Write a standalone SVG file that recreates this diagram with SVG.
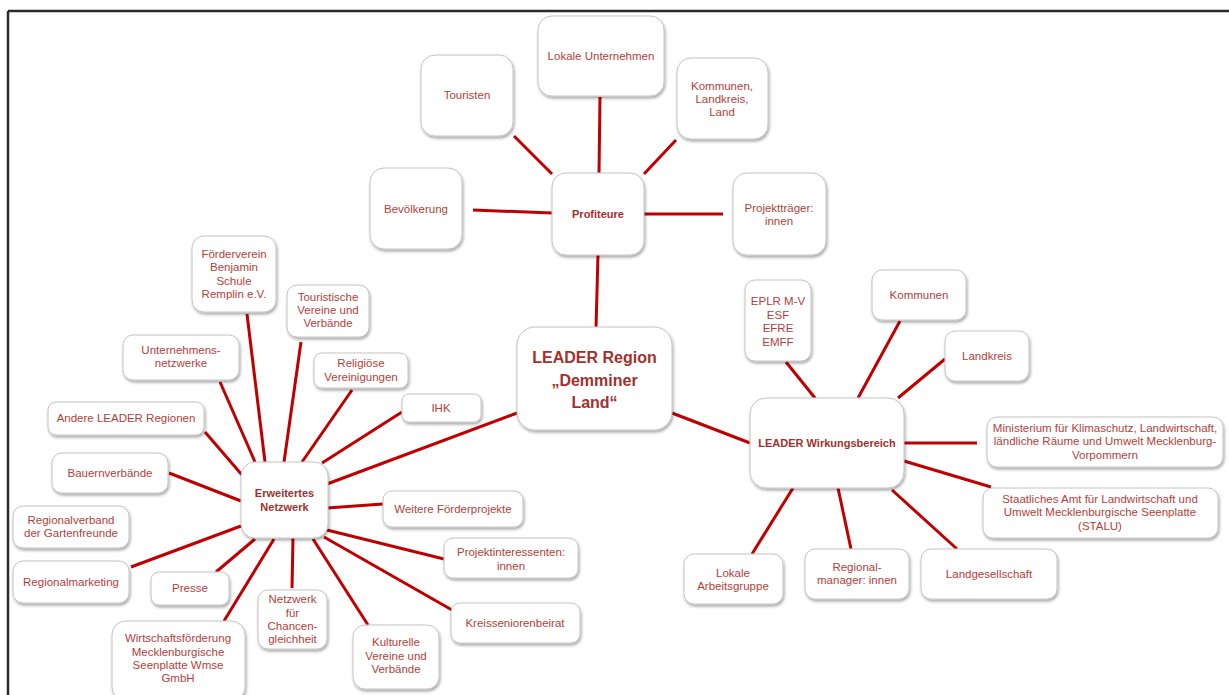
<svg xmlns="http://www.w3.org/2000/svg" width="1229" height="695" viewBox="0 0 1229 695">
<defs>
<filter id="sh" x="-20%" y="-20%" width="140%" height="150%">
<feDropShadow dx="1" dy="2" stdDeviation="1.5" flood-color="#000" flood-opacity="0.35"/>
</filter>
</defs>
<style>
.box{fill:#fff;stroke:#c4c4c4;stroke-width:1;filter:url(#sh)}
.t{font-family:"Liberation Sans",Arial,sans-serif;font-size:11.5px;fill:#B5403A;text-anchor:middle}
.b{font-weight:bold;font-size:11px;fill:#A3302C}
.big{font-weight:bold;font-size:16px;fill:#A3302C}
.c{stroke:#C00000;stroke-width:3;fill:none}
</style>
<rect width="1229" height="695" fill="#fff"/>
<path d="M8 11 H1229 M8 11 V695" stroke="#2a2a2a" stroke-width="2.5" fill="none"/>
<g id="connectors" class="c">
<line x1="600" y1="97" x2="599" y2="173"/>
<line x1="514" y1="136" x2="552" y2="174"/>
<line x1="676" y1="140" x2="644" y2="174"/>
<line x1="473" y1="210" x2="552" y2="213"/>
<line x1="644" y1="214" x2="723" y2="214"/>
<line x1="598" y1="255" x2="596" y2="328"/>
<line x1="672" y1="413" x2="750" y2="443"/>
<line x1="517" y1="413" x2="327" y2="484"/>
<line x1="786" y1="362" x2="815" y2="398"/>
<line x1="900" y1="321" x2="858" y2="398"/>
<line x1="945" y1="359" x2="898" y2="398"/>
<line x1="904" y1="443" x2="977" y2="443"/>
<line x1="904" y1="461" x2="991" y2="487"/>
<line x1="793" y1="488" x2="752" y2="554"/>
<line x1="838" y1="488" x2="851" y2="549"/>
<line x1="892" y1="490" x2="957" y2="549"/>
<line x1="247" y1="314" x2="265" y2="462"/>
<line x1="301" y1="342" x2="284" y2="462"/>
<line x1="220" y1="382" x2="255" y2="462"/>
<line x1="352" y1="390" x2="302" y2="462"/>
<line x1="402" y1="412" x2="322" y2="463"/>
<line x1="205" y1="432" x2="242" y2="475"/>
<line x1="169" y1="473" x2="241" y2="501"/>
<line x1="131" y1="567" x2="241" y2="526"/>
<line x1="216" y1="572" x2="255" y2="539"/>
<line x1="224" y1="621" x2="274" y2="539"/>
<line x1="293" y1="538" x2="292" y2="588"/>
<line x1="313" y1="539" x2="368" y2="625"/>
<line x1="324" y1="537" x2="452" y2="610"/>
<line x1="327" y1="530" x2="444" y2="559"/>
<line x1="327" y1="508" x2="383" y2="504"/>
</g>
<g id="n_lokale"><rect class="box" x="538" y="16" width="126" height="80" rx="14"/><text class="t" x="601" y="60">Lokale Unternehmen</text></g>
<g id="n_touristen"><rect class="box" x="421" y="55" width="92" height="81" rx="14"/><text class="t" x="467" y="99">Touristen</text></g>
<g id="n_kommunen_land"><rect class="box" x="677" y="58" width="91" height="81" rx="14"/><text class="t" x="722" y="90">Kommunen,</text><text class="t" x="722" y="103">Landkreis,</text><text class="t" x="722" y="116">Land</text></g>
<g id="n_bevoelkerung"><rect class="box" x="370" y="168" width="92" height="81" rx="14"/><text class="t" x="416" y="213">Bevölkerung</text></g>
<g id="n_profiteure"><rect class="box" x="552" y="173" width="92" height="82" rx="14"/><text class="t b" x="598" y="218">Profiteure</text></g>
<g id="n_projekttraeger"><rect class="box" x="733" y="173" width="93" height="82" rx="14"/><text class="t" x="779" y="212">Projektträger:</text><text class="t" x="779" y="225">innen</text></g>
<g id="n_leader"><rect class="box" x="517" y="327" width="155" height="103" rx="18"/><text class="t big" x="594.5" y="363">LEADER Region</text><text class="t big" x="594.5" y="386">„Demminer</text><text class="t big" x="594.5" y="408">Land“</text></g>
<g id="n_wirkung"><rect class="box" x="750" y="398" width="154" height="90" rx="16"/><text class="t b" x="827" y="447">LEADER Wirkungsbereich</text></g>
<g id="n_eplr"><rect class="box" x="745" y="280" width="66" height="81" rx="10"/><text class="t" x="778" y="305">EPLR M-V</text><text class="t" x="778" y="318.5">ESF</text><text class="t" x="778" y="332">EFRE</text><text class="t" x="778" y="345.5">EMFF</text></g>
<g id="n_kommunen"><rect class="box" x="872" y="270" width="94" height="50" rx="10"/><text class="t" x="919" y="299">Kommunen</text></g>
<g id="n_landkreis"><rect class="box" x="945" y="331" width="84" height="50" rx="10"/><text class="t" x="987" y="360">Landkreis</text></g>
<g id="n_ministerium"><rect class="box" x="987" y="417" width="236" height="50" rx="10"/><text class="t" x="1105" y="432">Ministerium für Klimaschutz, Landwirtschaft,</text><text class="t" x="1105" y="445">ländliche Räume und Umwelt Mecklenburg-</text><text class="t" x="1105" y="459">Vorpommern</text></g>
<g id="n_stalu"><rect class="box" x="983" y="488" width="235" height="50" rx="10"/><text class="t" x="1100" y="503">Staatliches Amt für Landwirtschaft und</text><text class="t" x="1100" y="516">Umwelt Mecklenburgische Seenplatte</text><text class="t" x="1100" y="530">(STALU)</text></g>
<g id="n_lag"><rect class="box" x="684" y="554" width="99" height="50" rx="10"/><text class="t" x="733" y="577">Lokale</text><text class="t" x="733" y="590">Arbeitsgruppe</text></g>
<g id="n_regional"><rect class="box" x="805" y="549" width="104" height="50" rx="10"/><text class="t" x="857" y="571">Regional-</text><text class="t" x="857" y="584">manager: innen</text></g>
<g id="n_landges"><rect class="box" x="921" y="549" width="136" height="50" rx="10"/><text class="t" x="989" y="578">Landgesellschaft</text></g>
<g id="n_erweitert"><rect class="box" x="241" y="462" width="87" height="76" rx="14"/><text class="t b" x="284.5" y="497">Erweitertes</text><text class="t b" x="284.5" y="511">Netzwerk</text></g>
<g id="n_foerder"><rect class="box" x="192" y="236" width="84" height="76" rx="12"/><text class="t" x="234" y="258">Förderverein</text><text class="t" x="234" y="271">Benjamin</text><text class="t" x="234" y="285">Schule</text><text class="t" x="234" y="298">Remplin e.V.</text></g>
<g id="n_tour"><rect class="box" x="287" y="285" width="82" height="52" rx="10"/><text class="t" x="328" y="301">Touristische</text><text class="t" x="328" y="314">Vereine und</text><text class="t" x="328" y="327">Verbände</text></g>
<g id="n_untern"><rect class="box" x="123" y="335" width="116" height="45" rx="10"/><text class="t" x="181" y="354">Unternehmens-</text><text class="t" x="181" y="367">netzwerke</text></g>
<g id="n_relig"><rect class="box" x="314" y="353" width="94" height="35" rx="8"/><text class="t" x="361" y="367">Religiöse</text><text class="t" x="361" y="381">Vereinigungen</text></g>
<g id="n_ihk"><rect class="box" x="402" y="394" width="79" height="28" rx="7"/><text class="t" x="441" y="412">IHK</text></g>
<g id="n_andere"><rect class="box" x="48" y="402" width="156" height="33" rx="8"/><text class="t" x="126" y="422">Andere LEADER Regionen</text></g>
<g id="n_bauern"><rect class="box" x="52" y="453" width="116" height="40" rx="10"/><text class="t" x="110" y="477">Bauernverbände</text></g>
<g id="n_regverb"><rect class="box" x="13" y="506" width="116" height="42" rx="10"/><text class="t" x="71" y="524">Regionalverband</text><text class="t" x="71" y="537">der Gartenfreunde</text></g>
<g id="n_regmark"><rect class="box" x="13" y="561" width="116" height="42" rx="10"/><text class="t" x="71" y="586">Regionalmarketing</text></g>
<g id="n_presse"><rect class="box" x="151" y="572" width="78" height="33" rx="8"/><text class="t" x="190" y="592">Presse</text></g>
<g id="n_wirtsch"><rect class="box" x="112" y="621" width="133" height="80" rx="14"/><text class="t" x="178" y="642">Wirtschaftsförderung</text><text class="t" x="178" y="656">Mecklenburgische</text><text class="t" x="178" y="669">Seenplatte Wmse</text><text class="t" x="178" y="682">GmbH</text></g>
<g id="n_chancen"><rect class="box" x="258" y="590" width="69" height="59" rx="10"/><text class="t" x="292.5" y="603">Netzwerk</text><text class="t" x="292.5" y="617">für</text><text class="t" x="292.5" y="630">Chancen-</text><text class="t" x="292.5" y="643">gleichheit</text></g>
<g id="n_kultur"><rect class="box" x="353" y="625" width="86" height="64" rx="12"/><text class="t" x="396" y="646">Kulturelle</text><text class="t" x="396" y="660">Vereine und</text><text class="t" x="396" y="673">Verbände</text></g>
<g id="n_weitere"><rect class="box" x="383" y="491" width="140" height="36" rx="9"/><text class="t" x="453" y="513">Weitere Förderprojekte</text></g>
<g id="n_projint"><rect class="box" x="444" y="538" width="134" height="40" rx="9"/><text class="t" x="511" y="556">Projektinteressenten:</text><text class="t" x="511" y="570">innen</text></g>
<g id="n_kreis"><rect class="box" x="451" y="603" width="129" height="40" rx="9"/><text class="t" x="515" y="627">Kreisseniorenbeirat</text></g>
</svg>
